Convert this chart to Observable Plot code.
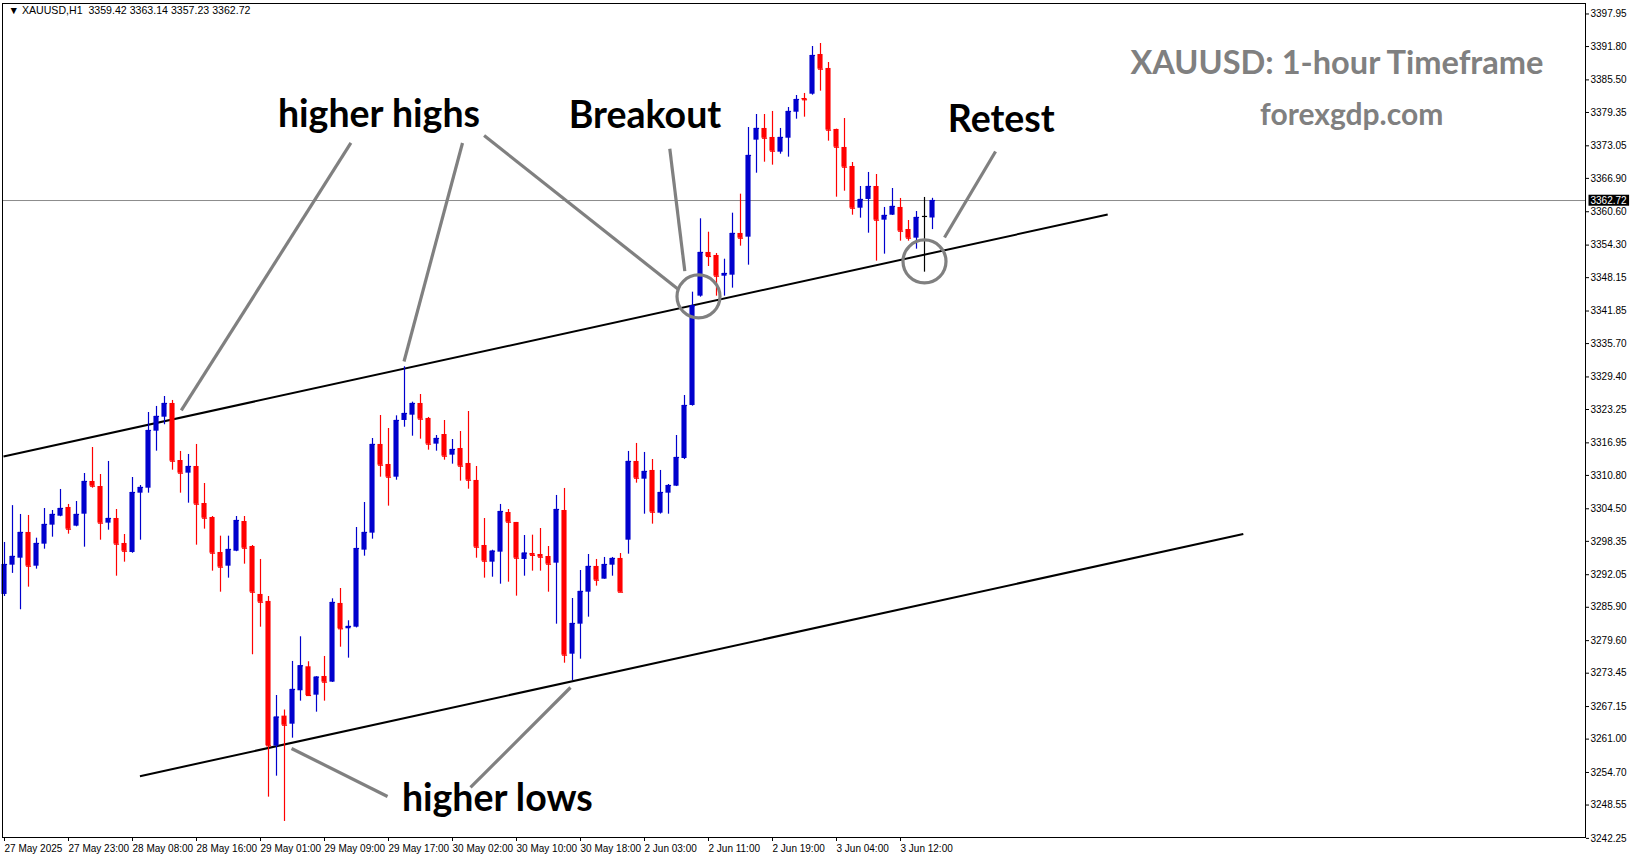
<!DOCTYPE html>
<html><head><meta charset="utf-8">
<script src="https://cdn.jsdelivr.net/npm/d3@7"></script>
<script src="https://cdn.jsdelivr.net/npm/@observablehq/plot@0.6"></script>
<style>body{margin:0;background:#fff;} #chart{width:1631px;height:861px;overflow:hidden;}</style>
</head><body><div id="chart"></div>
<script>
// ---- candle data (XAUUSD H1) ----
const openP = [3288.32,3293.85,3295.17,3300.03,3293.66,3297.82,3301.41,3303.10,3304.75,3301.22,
3303.48,3309.66,3308.71,3301.79,3302.67,3297.95,3296.25,3307.45,3308.39,3319.16,
3321.80,3324.39,3313.62,3311.23,3312.49,3305.50,3302.86,3296.25,3293.66,3296.49,
3302.10,3297.38,3288.32,3287.00,3259.67,3265.34,3263.82,3270.13,3274.66,3269.30,
3272.83,3271.76,3286.62,3281.84,3282.14,3296.69,3299.90,3316.65,3312.87,3310.47,
3321.18,3322.18,3324.39,3321.56,3316.71,3318.53,3314.63,3315.89,3313.06,3309.85,
3297.57,3294.42,3296.31,3303.80,3301.92,3294.93,3296.06,3295.87,3295.49,3294.23,
3304.18,3277.04,3282.71,3288.75,3293.61,3291.21,3293.85,3295.12,3298.57,3313.44,
3310.09,3311.74,3303.67,3307.45,3308.77,3314.00,3324.01,3344.66,3352.91,3352.34,
3348.43,3348.62,3356.50,3355.80,3374.12,3376.33,3374.63,3371.85,3374.49,3379.40,
3381.99,3382.80,3390.30,3387.66,3376.14,3372.74,3369.15,3361.27,3362.92,3365.37,
3359.01,3359.95,3361.41,3357.25,3355.61,3359.71,3359.42];
const highP = [3298.14,3305.10,3303.43,3303.24,3298.95,3304.56,3304.18,3308.15,3305.32,3305.88,
3311.17,3316.08,3310.98,3313.44,3304.37,3299.65,3310.41,3308.90,3322.69,3323.83,
3325.71,3324.96,3315.33,3314.76,3316.65,3309.28,3303.05,3299.33,3299.33,3303.05,
3303.05,3297.57,3294.93,3287.94,3269.24,3266.50,3275.67,3280.33,3275.61,3272.80,
3276.61,3287.50,3289.45,3283.35,3300.97,3305.69,3317.78,3322.12,3319.67,3322.06,
3331.32,3324.64,3326.09,3321.75,3318.34,3321.18,3317.59,3319.10,3322.88,3312.49,
3302.67,3296.68,3305.32,3304.37,3301.92,3299.46,3299.52,3300.78,3297.38,3307.02,
3308.34,3287.56,3292.85,3295.87,3294.93,3295.31,3295.31,3296.06,3315.33,3316.84,
3315.14,3313.81,3311.74,3309.09,3318.34,3325.90,3345.41,3359.27,3356.74,3352.72,
3351.64,3360.33,3363.92,3376.51,3378.97,3378.97,3379.54,3376.33,3380.29,3382.56,
3382.94,3391.81,3392.38,3388.79,3376.20,3378.21,3369.90,3365.37,3368.02,3367.64,
3361.41,3364.99,3363.11,3358.95,3360.65,3363.30,3363.14];
const lowP = [3287.94,3292.30,3285.43,3289.70,3293.10,3296.87,3299.14,3303.00,3299.71,3301.10,
3297.25,3308.39,3298.57,3300.46,3291.77,3294.42,3296.10,3298.57,3307.45,3315.38,
3320.37,3311.79,3307.45,3305.56,3297.63,3300.65,3292.72,3288.75,3291.40,3296.40,
3294.04,3276.93,3282.14,3250.04,3254.00,3245.45,3261.18,3268.17,3269.10,3266.09,
3268.17,3271.70,3278.36,3276.29,3282.00,3295.55,3298.76,3310.47,3305.00,3309.90,
3319.91,3318.21,3317.65,3315.57,3315.38,3313.68,3312.93,3309.72,3308.20,3295.17,
3291.40,3291.58,3290.26,3290.64,3288.00,3291.77,3292.72,3292.72,3288.75,3282.71,
3275.34,3272.08,3276.10,3284.03,3289.89,3291.20,3291.77,3288.70,3295.93,3309.34,
3303.48,3301.60,3303.50,3303.48,3308.70,3313.80,3323.88,3344.47,3350.26,3344.66,
3344.66,3346.17,3354.10,3350.51,3367.88,3369.96,3369.40,3371.47,3370.91,3378.08,
3378.46,3382.62,3383.37,3373.93,3363.35,3364.48,3359.95,3359.39,3356.55,3351.27,
3352.59,3359.90,3355.04,3355.04,3353.53,3349.19,3357.23];
const closeP = [3293.98,3295.50,3300.03,3293.66,3297.95,3301.54,3303.43,3304.56,3300.65,3303.43,
3309.66,3308.77,3301.79,3302.67,3297.82,3296.49,3307.58,3308.53,3319.29,3321.94,
3324.39,3313.49,3311.23,3312.49,3305.37,3302.73,3296.12,3293.48,3296.82,3302.29,
3297.06,3288.75,3286.86,3259.74,3265.15,3263.63,3270.38,3274.85,3269.24,3272.70,
3271.76,3286.81,3281.84,3282.28,3297.00,3300.03,3316.65,3312.74,3310.47,3321.18,
3322.50,3324.39,3321.43,3316.71,3317.78,3314.44,3315.70,3312.55,3309.90,3297.25,
3294.61,3296.49,3303.99,3301.97,3295.17,3296.12,3295.71,3295.36,3294.04,3304.37,
3276.86,3282.84,3288.89,3293.61,3291.02,3293.98,3295.12,3288.75,3313.44,3310.28,
3311.55,3303.86,3307.58,3308.90,3314.19,3324.01,3342.84,3352.91,3352.15,3348.43,
3348.94,3356.50,3355.61,3371.23,3376.33,3374.49,3372.04,3374.63,3379.54,3381.80,
3381.75,3390.11,3387.53,3376.01,3372.79,3369.02,3361.27,3362.92,3365.37,3359.01,
3359.90,3361.60,3356.93,3355.61,3359.52,3359.71,3362.72];

// ---- axes ----
const timeTickIndex = [0,8,16,24,32,40,48,56,64,72,80,88,96,104,112];
const timeTickLabels = ["27 May 2025","27 May 23:00","28 May 08:00","28 May 16:00","29 May 01:00",
  "29 May 09:00","29 May 17:00","30 May 02:00","30 May 10:00","30 May 18:00","2 Jun 03:00",
  "2 Jun 11:00","2 Jun 19:00","3 Jun 04:00","3 Jun 12:00"];
const priceTicks = [3397.95,3391.80,3385.50,3379.35,3373.05,3366.90,3360.60,3354.30,3348.15,3341.85,
  3335.70,3329.40,3323.25,3316.95,3310.80,3304.50,3298.35,3292.05,3285.90,3279.60,3273.45,
  3267.15,3261.00,3254.70,3248.55,3242.25];
const lastPrice = 3362.72;
const headerText = "▼ XAUUSD,H1  3359.42 3363.14 3357.23 3362.72";

// ---- channel trendlines (bar index, price) ----
const trendX1 = [-0.125, 16.93];
const trendY1 = [3314.38, 3254.00];
const trendX2 = [137.9, 154.85];
const trendY2 = [3360.08, 3299.74];

// ---- annotation pointers ----
const ptrX1 = [43.3, 57.25, 59.95, 83.16, 123.88, 47.88, 58.25];
const ptrY1 = [3373.59, 3373.59, 3375.00, 3372.49, 3371.98, 3250.17, 3251.87];
const ptrX2 = [22.1, 49.94, 84.25, 85.04, 117.5, 35.88, 70.75];
const ptrY2 = [3323.07, 3332.32, 3345.92, 3349.38, 3355.74, 3259.23, 3270.75];

// ---- circles ----
const circleX = [86.75, 115.0];
const circleY = [3344.6, 3351.21];

// ---- text labels ----
const annText = ["higher highs", "Breakout", "Retest", "higher lows"];
const annX = [46.81, 80.06, 124.6, 61.6];
const annY = [3378.78, 3378.59, 3377.84, 3249.6];
const brandText = ["XAUUSD: 1-hour Timeframe", "forexgdp.com"];
const brandX = [166.56, 168.4];
const brandY = [3388.6, 3378.78];

const candles = openP.map((o, i) => ({i, o, h: highP[i], l: lowP[i], c: closeP[i]}));
const col = d => d.c > d.o ? "#0000cd" : d.c < d.o ? "#ff0000" : "#000000";
const idx = n => d3.range(n);

const chart = Plot.plot({
  width: 1631, height: 861,
  marginLeft: 2, marginRight: 46, marginTop: 3, marginBottom: 24,
  style: {fontFamily: "Liberation Sans, Arial, sans-serif", fontSize: "10px", background: "#fff", overflow: "visible"},
  x: {type: "linear", domain: [-0.25, 197.625], label: null},
  y: {type: "linear", domain: [3242.42, 3399.93], label: null},
  marks: [
    Plot.ruleY([lastPrice], {stroke: "#8c8c8c", strokeWidth: 1}),
    Plot.link(idx(2), {x1: i => trendX1[i], y1: i => trendY1[i], x2: i => trendX2[i], y2: i => trendY2[i], stroke: "#000", strokeWidth: 2}),
    Plot.ruleX(candles, {x: "i", y1: "l", y2: "h", stroke: col, strokeWidth: 1.2}),
    Plot.rect(candles, {x1: d => d.i - 0.32, x2: d => d.i + 0.32, y1: "o", y2: "c", fill: col}),
    Plot.link(candles, {x1: d => d.i - 0.32, x2: d => d.i + 0.32, y1: "c", y2: "c", stroke: col, strokeWidth: 1.2}),
    Plot.link(idx(ptrX1.length), {x1: i => ptrX1[i], y1: i => ptrY1[i], x2: i => ptrX2[i], y2: i => ptrY2[i], stroke: "#808080", strokeWidth: 3.2}),
    Plot.dot(idx(circleX.length), {x: i => circleX[i], y: i => circleY[i], r: 21.5, stroke: "#808080", strokeWidth: 3.2, fill: "none"}),
    Plot.text(idx(annText.length), {x: i => annX[i], y: i => annY[i], text: i => annText[i], fontFamily: "Lato, sans-serif", fontWeight: "bold", fontSize: 37.5, fill: "#000"}),
    Plot.text(idx(brandText.length), {x: i => brandX[i], y: i => brandY[i], text: i => brandText[i], fontFamily: "Lato, sans-serif", fontWeight: "bold", fontSize: i => i === 0 ? 32.6 : 30, fill: "#808080"}),
    Plot.text([headerText], {frameAnchor: "top-left", dx: 6, dy: 3, textAnchor: "start", lineAnchor: "top", fontSize: 10.6, fill: "#000"}),
    Plot.axisY({anchor: "right", ticks: priceTicks, tickFormat: d => d.toFixed(2), tickSize: 3, tickPadding: 2, fontSize: 10, label: null}),
    Plot.axisX({anchor: "bottom", ticks: timeTickIndex, tickFormat: d => timeTickLabels[timeTickIndex.indexOf(d)], textAnchor: "start", tickSize: 4, tickPadding: 3, dx: 0, fontSize: 10, label: null}),
    Plot.text([lastPrice], {y: d => d, frameAnchor: "right", dx: 5, textAnchor: "start", text: d => d.toFixed(2), fill: "#fff", fontSize: 10, className: "lastlbl"}),
    Plot.frame({stroke: "#000", strokeWidth: 1})
  ]
});
document.getElementById("chart").appendChild(chart);
// black box behind the current price label
const t = chart.querySelector(".lastlbl text");
if (t) {
  const b = t.getBBox();
  const r = document.createElementNS("http://www.w3.org/2000/svg", "rect");
  r.setAttribute("x", b.x - 2); r.setAttribute("y", b.y);
  r.setAttribute("width", b.width + 4); r.setAttribute("height", b.height);
  r.setAttribute("fill", "#000");
  const tr = t.getAttribute("transform");
  if (tr) r.setAttribute("transform", tr);
  t.parentNode.insertBefore(r, t);
}
</script>
</body></html>
